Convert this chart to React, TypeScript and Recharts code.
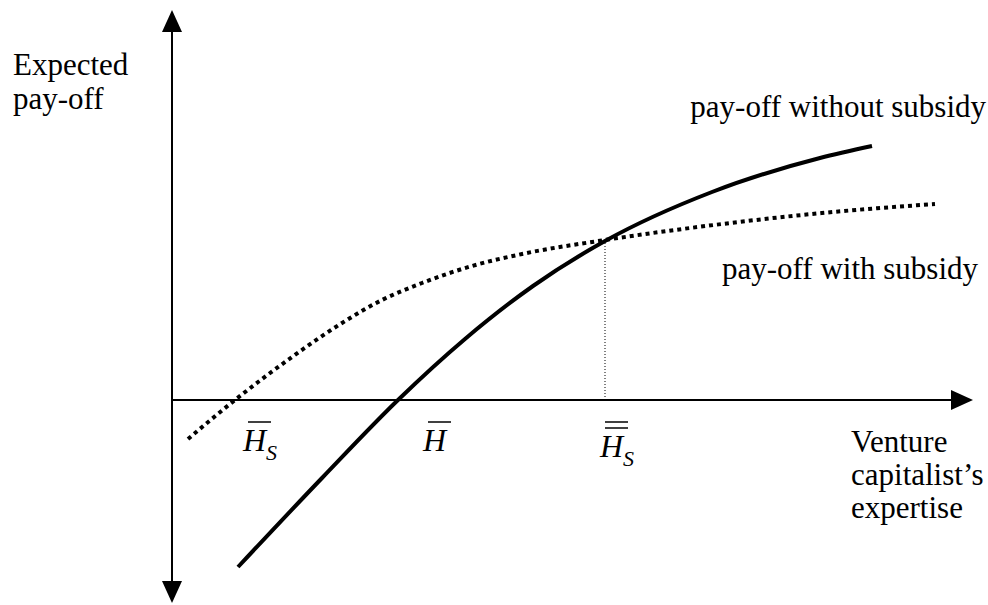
import React from 'react';
import { LineChart, Line, XAxis, YAxis, ReferenceLine, ReferenceDot } from 'recharts';

// expertise (x) vs expected pay-off (y), origin where the two axes cross
const withoutSubsidyX = [0.66, 1.5, 2.26, 2.93, 3.61, 4.33, 5.4, 6.48, 7.0];
const withoutSubsidyY = [-1.67, -0.78, 0, 0.61, 1.14, 1.59, 2.08, 2.42, 2.54];

const withSubsidyX = [0.16, 0.63, 1.2, 1.7, 2.1, 2.5, 3.0, 3.5, 4.33, 5.5, 6.5, 7.63];
const withSubsidyY = [-0.39, 0, 0.43, 0.77, 1.0, 1.17, 1.34, 1.46, 1.6, 1.76, 1.87, 1.96];

const crossingX = 4.33;
const crossingY = 1.6;

const withoutData = withoutSubsidyX.map((x, i) => ({ x, y: withoutSubsidyY[i] }));
const withData = withSubsidyX.map((x, i) => ({ x, y: withSubsidyY[i] }));

const FONT = "'Liberation Serif', 'Times New Roman', 'DejaVu Serif', serif";
const FS = 31;

const arrow = (dir: string) => (props: any) => {
  const { cx, cy } = props;
  let pts = '';
  if (dir === 'up') pts = `${cx},${cy} ${cx - 10},${cy + 22} ${cx + 10},${cy + 22}`;
  if (dir === 'down') pts = `${cx},${cy} ${cx - 10},${cy - 22} ${cx + 10},${cy - 22}`;
  if (dir === 'right') pts = `${cx},${cy} ${cx - 22},${cy - 10} ${cx - 22},${cy + 10}`;
  return <polygon points={pts} fill="#000" />;
};

const textLines = (lines: string[], anchor: string, gap: number) => (props: any) => {
  const { cx, cy } = props;
  return (
    <text x={cx} y={cy} style={{ fontFamily: FONT, fontSize: FS }} fill="#000" textAnchor={anchor}>
      {lines.map((l, i) => (
        <tspan key={i} x={cx} dy={i === 0 ? 0 : gap}>{l}</tspan>
      ))}
    </text>
  );
};

const hLabel = (bars: number, sub: boolean) => (props: any) => {
  const { cx, cy } = props;
  const offs = bars === 2 ? [35, 29] : [29];
  return (
    <g>
      <text x={cx} y={cy} style={{ fontFamily: FONT, fontSize: 32, fontStyle: 'italic' }} fill="#000">
        H{sub && <tspan style={{ fontSize: 22 }} dy={9}>S</tspan>}
      </text>
      {offs.map((o, i) => (
        <line key={i} x1={cx + 5} x2={cx + 28} y1={cy - o} y2={cy - o} stroke="#000" strokeWidth={1.5} />
      ))}
    </g>
  );
};

export default function App() {
  return (
    <div style={{ position: 'absolute', left: 0, top: 0, width: 988, height: 605, background: '#fff' }}>
      <LineChart width={988} height={605} margin={{ top: 0, right: 0, bottom: 0, left: 0 }}>
        <XAxis dataKey="x" type="number" domain={[-1.72, 8.16]} allowDataOverflow hide />
        <YAxis type="number" domain={[-2.05, 4.0]} allowDataOverflow hide />

        <ReferenceLine segment={[{ x: 0, y: -1.85 }, { x: 0, y: 3.72 }]} stroke="#000" strokeWidth={2} ifOverflow="visible" />
        <ReferenceLine segment={[{ x: 0, y: 0 }, { x: 7.85, y: 0 }]} stroke="#000" strokeWidth={2} ifOverflow="visible" />
        <ReferenceLine segment={[{ x: crossingX, y: 0 }, { x: crossingX, y: crossingY }]} stroke="#000" strokeWidth={1} strokeDasharray="1 2" ifOverflow="visible" />

        <ReferenceDot x={0} y={3.9} ifOverflow="visible" shape={arrow('up')} />
        <ReferenceDot x={0} y={-2.03} ifOverflow="visible" shape={arrow('down')} />
        <ReferenceDot x={8.01} y={0} ifOverflow="visible" shape={arrow('right')} />

        <Line data={withData} dataKey="y" type="monotone" stroke="#000" strokeWidth={4} strokeDasharray="4 4" dot={false} activeDot={false} isAnimationActive={false} />
        <Line data={withoutData} dataKey="y" type="monotone" stroke="#000" strokeWidth={4} dot={false} activeDot={false} isAnimationActive={false} />

        <ReferenceDot x={-1.59} y={3.25} ifOverflow="visible" shape={textLines(['Expected', 'pay-off'], 'start', 34)} />
        <ReferenceDot x={8.14} y={2.83} ifOverflow="visible" shape={textLines(['pay-off without subsidy'], 'end', 0)} />
        <ReferenceDot x={5.5} y={1.21} ifOverflow="visible" shape={textLines(['pay-off with subsidy'], 'start', 0)} />
        <ReferenceDot x={6.79} y={-0.52} ifOverflow="visible" shape={textLines(['Venture', 'capitalist\u2019s', 'expertise'], 'start', 33)} />

        <ReferenceDot x={0.71} y={-0.51} ifOverflow="visible" shape={hLabel(1, true)} />
        <ReferenceDot x={2.51} y={-0.51} ifOverflow="visible" shape={hLabel(1, false)} />
        <ReferenceDot x={4.28} y={-0.57} ifOverflow="visible" shape={hLabel(2, true)} />
      </LineChart>
    </div>
  );
}
